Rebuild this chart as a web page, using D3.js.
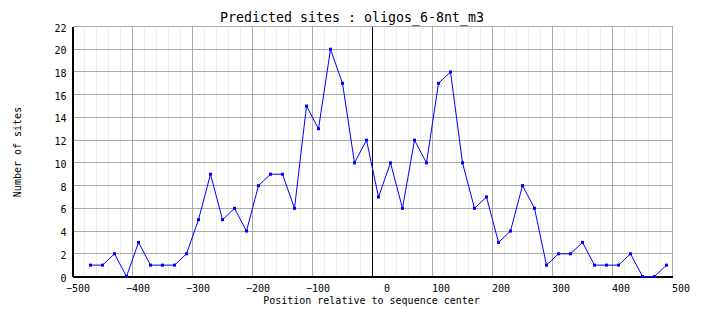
<!DOCTYPE html>
<html>
<head>
<meta charset="utf-8">
<script src="https://cdn.jsdelivr.net/npm/d3@7/dist/d3.min.js"></script>
<style>
  html, body { margin: 0; padding: 0; background: #fff; }
  svg { display: block; }
  text { font-family: "DejaVu Sans Mono", "Liberation Mono", monospace; fill: #000; }
</style>
</head>
<body>
<svg id="chart" width="704" height="328"></svg>
<script>
// Window positions (relative to sequence center) and site counts per window
const positions = [-470, -450, -430, -410, -390, -370, -350, -330, -310, -290,
                   -270, -250, -230, -210, -190, -170, -150, -130, -110, -90,
                   -70, -50, -30, -10, 10, 30, 50, 70, 90, 110,
                   130, 150, 170, 190, 210, 230, 250, 270, 290, 310,
                   330, 350, 370, 390, 410, 430, 450, 470, 490];
const sites = [1, 1, 2, 0, 3, 1, 1, 1, 2, 5,
               9, 5, 6, 4, 8, 9, 9, 6, 15, 13,
               20, 17, 10, 12, 7, 10, 6, 12, 10, 17,
               18, 10, 6, 7, 3, 4, 8, 6, 1, 2,
               2, 3, 1, 1, 1, 2, 0, 0, 1];
const xMajorTicks = [-500, -400, -300, -200, -100, 0, 100, 200, 300, 400, 500];
const xMinorTicks = d3.range(-500, 501, 20);
const yTicks = [0, 2, 4, 6, 8, 10, 12, 14, 16, 18, 20, 22];

const title = "Predicted sites : oligos_6-8nt_m3";
const xTitle = "Position relative to sequence center";
const yTitle = "Number of sites";

const svg = d3.select("#chart");
const plotLeft = 72.5, plotRight = 672.5, plotTop = 26.5, plotBottom = 276.5;

const x = d3.scaleLinear().domain([-500, 500]).range([plotLeft, plotRight]);
const y = d3.scaleLinear().domain([0, 22]).range([plotBottom, plotTop]);

const grid = svg.append("g").attr("shape-rendering", "crispEdges");

// minor vertical grid
grid.selectAll("line.minor").data(xMinorTicks).join("line")
  .attr("class", "minor")
  .attr("x1", d => x(d)).attr("x2", d => x(d))
  .attr("y1", plotTop).attr("y2", plotBottom)
  .attr("stroke", "#eeeeee").attr("stroke-width", 1);

// major vertical grid
grid.selectAll("line.vmajor").data(xMajorTicks).join("line")
  .attr("class", "vmajor")
  .attr("x1", d => x(d)).attr("x2", d => x(d))
  .attr("y1", plotTop).attr("y2", plotBottom)
  .attr("stroke", "#aaaaaa").attr("stroke-width", 1);

// horizontal grid
grid.selectAll("line.hmajor").data(yTicks).join("line")
  .attr("class", "hmajor")
  .attr("x1", plotLeft).attr("x2", plotRight)
  .attr("y1", d => y(d)).attr("y2", d => y(d))
  .attr("stroke", "#aaaaaa").attr("stroke-width", 1);

// sequence center marker
grid.append("line")
  .attr("x1", x(0)).attr("x2", x(0))
  .attr("y1", plotTop).attr("y2", plotBottom)
  .attr("stroke", "#000").attr("stroke-width", 1);

// axes
const xAxis = d3.axisBottom(x).tickValues(xMajorTicks).tickSize(0).tickFormat(d3.format("d"));
const gx = svg.append("g").attr("transform", `translate(0,${plotBottom})`).call(xAxis);
gx.select(".domain").attr("stroke", "#000").attr("stroke-width", 1.5).attr("shape-rendering", "crispEdges");
gx.selectAll("text")
  .attr("font-size", "10px")
  .attr("font-family", "DejaVu Sans Mono, monospace")
  .attr("text-anchor", "end")
  .attr("x", 17).attr("y", 15).attr("dy", null)
  .text(d => d < 0 ? "\u2212" + Math.abs(d) : d);

const yAxis = d3.axisLeft(y).tickValues(yTicks).tickSize(0).tickPadding(6);
const gy = svg.append("g").attr("transform", `translate(${plotLeft},0)`).call(yAxis);
gy.select(".domain").attr("stroke", "#000").attr("stroke-width", 1.5).attr("shape-rendering", "crispEdges");
gy.selectAll("text")
  .attr("font-size", "10px")
  .attr("font-family", "DejaVu Sans Mono, monospace")
  .attr("dy", "0.45em");

// data line
const line = d3.line().x((d, i) => x(positions[i])).y(d => y(d));
svg.append("path")
  .datum(sites)
  .attr("d", line)
  .attr("fill", "none")
  .attr("stroke", "#0000ff")
  .attr("stroke-width", 1);

// point markers
svg.append("g").selectAll("rect").data(sites).join("rect")
  .attr("x", (d, i) => x(positions[i]) - 1.5)
  .attr("y", d => y(d) - 1.5)
  .attr("width", 3).attr("height", 3)
  .attr("fill", "#0000ff");

// titles
svg.append("text")
  .attr("x", 352).attr("y", 22)
  .attr("text-anchor", "middle")
  .attr("font-size", "13.3px")
  .text(title);

svg.append("text")
  .attr("x", (plotLeft + plotRight) / 2 - 1).attr("y", 304)
  .attr("text-anchor", "middle")
  .attr("font-size", "10px")
  .text(xTitle);

svg.append("text")
  .attr("transform", "translate(21,152) rotate(-90)")
  .attr("text-anchor", "middle")
  .attr("font-size", "10px")
  .text(yTitle);
</script>
</body>
</html>
